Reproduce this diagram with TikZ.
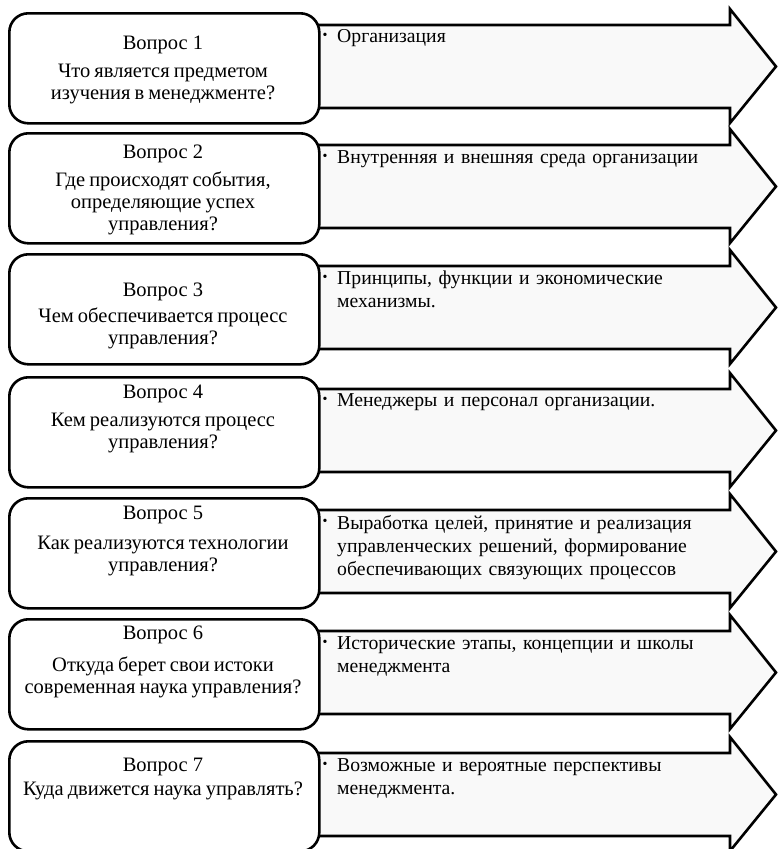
\documentclass[tikz,border=0pt]{standalone}
\usepackage{fontspec}
\setmainfont{Liberation Serif}
\newcommand\tightsp{\spaceskip=0.2em plus 0.1em minus 0.05em\relax}
\tikzset{
  qbox/.style={draw=black, line width=2.6pt, rounded corners=19pt, fill=white},
  arrowshape/.style={draw=black, line width=2.6pt, fill=black!2.5, line join=miter},
  qtitle/.style={inner sep=0pt, font=\fontsize{20.5}{22}\selectfont},
  qtext/.style={inner sep=0pt, align=center, font=\fontsize{20.5}{22}\selectfont\tightsp},
  atext/.style={inner sep=0pt, align=left, anchor=north west, text width=420pt, font=\fontsize{19.7}{23}\selectfont\tightsp},
  bul/.style={inner sep=0pt, font=\fontsize{14}{14}\selectfont}
}
\newcommand\qrow[7]{%
  % #1 index, #2 top, #3 title y, #4 question y, #5 question, #6 answer first-line y, #7 answer
  \draw[arrowshape] (300,#2+13) -- (730,#2+13) -- (730,#2-3) -- (776,#2+54.5)
     -- (730,#2+111) -- (730,#2+96) -- (300,#2+96) -- cycle;
  \node[qbox, minimum width=310pt, minimum height=110pt, anchor=north west] (box#1) at (8,#2) {};
  \node[qtitle] (title#1) at (163,#3) {Вопрос #1};
  \node[qtext] (q#1) at (163,#4) {#5};
  \node[bul] (bul#1) at (325,#6) {•};
  \node[atext] (a#1) at (337,#6-7) {#7};
}
\begin{document}
\begin{tikzpicture}[x=1pt,y=-1pt]
\useasboundingbox (0,0) rectangle (778,849);
\qrow{1}{12}{45}{83.5}{Что является предметом\\изучения в менеджменте?}{36}{Организация}
\qrow{2}{132}{154}{203}{Где происходят события,\\определяющие успех\\управления?}{157}{Внутренняя и внешняя среда организации}
\qrow{3}{253}{292}{328}{Чем обеспечивается процесс\\управления?}{278}{Принципы, функции и экономические\\механизмы.}
\qrow{4}{376}{394}{433}{Кем реализуются процесс\\управления?}{400}{Менеджеры и персонал организации.}
\qrow{5}{497}{515}{556}{Как реализуются технологии\\управления?}{522}{Выработка целей, принятие и реализация\\управленческих решений, формирование\\обеспечивающих связующих процессов}
\qrow{6}{618}{635}{677}{Откуда берет свои истоки\\современная наука управления?}{643}{Исторические этапы, концепции и школы\\менеджмента}
\qrow{7}{740}{767}{791}{Куда движется наука управлять?}{765}{Возможные и вероятные перспективы\\менеджмента.}
\end{tikzpicture}
\end{document}
